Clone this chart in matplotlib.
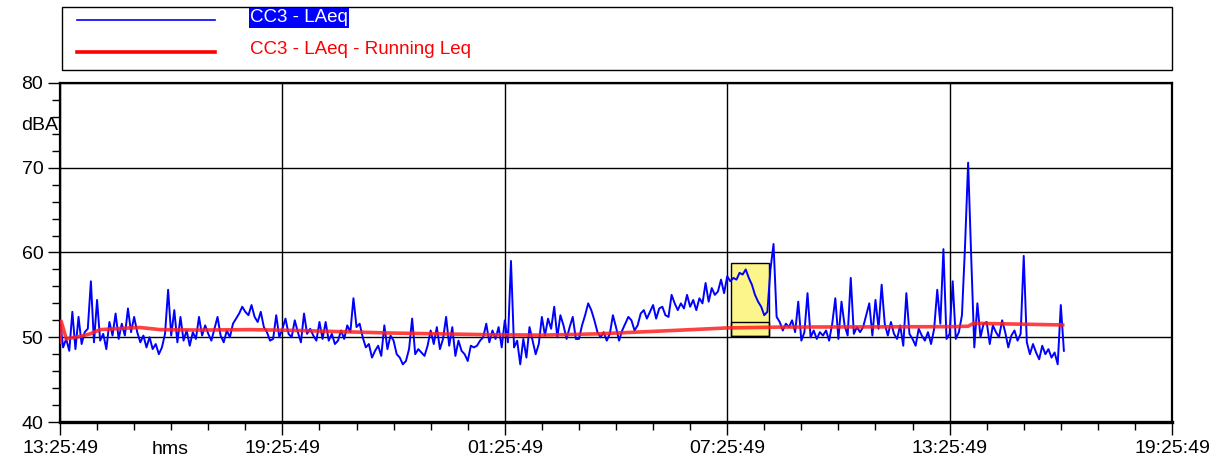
import numpy as np
import matplotlib
matplotlib.use("Agg")
import matplotlib.pyplot as plt
from matplotlib.patches import Rectangle
from matplotlib.lines import Line2D

# ------------------------------------------------------------------
# data, 5 minute LAeq samples from 13:25:49
# ------------------------------------------------------------------
STEP_MIN = 5
laeq = [
    52.0, 48.8, 49.8, 48.4, 53.0, 48.6, 52.4, 49.2, 50.6, 51.0, 56.6, 49.4,
    54.4, 49.6, 50.4, 48.6, 51.8, 50.2, 52.8, 49.8, 51.6, 50.2, 53.4, 50.6,
    52.4, 50.6, 49.4, 50.2, 48.8, 50.0, 48.6, 49.2, 48.0, 48.8, 50.4, 55.6,
    50.2, 53.2, 49.4, 52.4, 49.6, 50.8, 49.0, 50.6, 49.8, 52.4, 50.2, 51.4,
    50.4, 49.6, 51.0, 52.4, 50.2, 49.4, 50.8, 50.0, 51.6, 52.2, 52.8, 53.6,
    53.0, 52.6, 53.8, 52.4, 51.8, 53.0, 51.2, 50.6, 49.6, 49.8, 52.6, 50.0,
    51.0, 52.2, 50.4, 50.0, 52.0, 50.6, 49.4, 52.8, 50.4, 51.0, 50.2, 49.6,
    51.8, 49.8, 51.8, 49.6, 50.4, 49.2, 49.6, 50.8, 49.8, 51.4, 50.6, 54.6,
    51.2, 51.6, 50.0, 48.8, 49.2, 47.6, 48.4, 49.0, 47.8, 51.4, 48.6, 50.2,
    49.6, 48.0, 47.6, 46.8, 47.2, 48.6, 52.2, 48.0, 48.6, 48.2, 47.8, 49.0,
    50.8, 49.2, 51.2, 48.6, 49.8, 52.4, 49.0, 51.2, 47.8, 49.6, 48.4, 48.0,
    47.2, 49.0, 48.8, 49.0, 49.6, 50.0, 51.6, 49.4, 50.8, 49.8, 51.2, 48.8,
    52.0, 49.4, 59.0, 48.8, 49.6, 46.8, 49.8, 47.6, 51.2, 49.6, 48.0, 49.2,
    52.4, 50.2, 52.2, 51.0, 53.6, 50.0, 52.6, 51.4, 49.8, 51.2, 52.4, 49.8,
    49.8, 51.4, 52.6, 54.0, 53.2, 52.0, 50.6, 50.0, 50.6, 49.6, 50.4, 52.6,
    51.2, 49.6, 50.8, 51.6, 52.4, 52.0, 50.8, 51.4, 52.8, 53.2, 52.2, 53.0,
    53.8, 52.2, 53.4, 53.6, 52.6, 52.4, 55.0, 54.0, 53.2, 54.0, 53.4, 55.0,
    53.6, 54.4, 53.2, 54.6, 54.0, 56.4, 54.2, 55.8, 55.0, 55.4, 56.8, 55.2,
    57.2, 56.6, 57.0, 56.8, 57.6, 57.4, 58.0, 57.0, 56.2, 55.0, 54.2, 53.6,
    52.6, 53.0, 58.0, 61.0, 52.4, 51.8, 50.8, 51.6, 51.2, 52.0, 50.6, 54.2,
    49.6, 50.6, 55.2, 50.0, 50.8, 49.8, 50.6, 50.2, 50.8, 49.6, 51.6, 54.6,
    49.8, 54.2, 51.4, 50.2, 57.0, 50.4, 51.2, 50.6, 51.2, 52.6, 54.0, 50.2,
    54.4, 51.0, 56.2, 51.6, 50.2, 51.8, 50.4, 49.8, 51.4, 49.0, 55.2, 50.4,
    49.8, 49.0, 51.0, 50.2, 49.6, 50.6, 49.2, 51.0, 55.6, 51.6, 60.4, 49.8,
    50.4, 56.6, 49.8, 50.6, 52.6, 60.8, 70.6, 59.4, 48.8, 54.0, 50.0, 51.6,
    51.8, 49.2, 51.4, 50.6, 50.0, 52.0, 50.6, 48.8, 50.2, 50.8, 49.6, 50.4,
    59.6, 49.4, 48.0, 49.2, 48.2, 47.4, 49.0, 48.0, 48.6, 47.6, 48.2, 46.8,
    53.8, 48.4,
]

# running Leq (hours since start, dBA)
run_hours = [0.0, 0.03, 0.17, 0.54, 0.81, 1.08, 1.89, 2.16, 2.7, 3.78, 5.13,
             6.4, 8.91, 11.6, 13.0, 14.5, 16.3, 18.0, 19.43, 24.1, 24.5,
             24.65, 27.05]
run_leq = [49.4, 51.9, 49.8, 50.1, 50.4, 50.9, 51.1, 51.15, 50.9, 50.85, 50.9,
           50.8, 50.5, 50.3, 50.25, 50.4, 50.75, 51.1, 51.2, 51.25, 51.3,
           51.65, 51.45]

tick_labels = ["13:25:49", "19:25:49", "01:25:49", "07:25:49", "13:25:49", "19:25:49"]
series_names = ["CC3 - LAeq", "CC3 - LAeq - Running Leq"]

# highlighted interval (hours)
mark_start, mark_end = 18.11, 19.12

# ------------------------------------------------------------------
plt.rcParams['font.family'] = ['Liberation Sans', 'DejaVu Sans']

W, H = 1211, 461
fig = plt.figure(figsize=(W / 100, H / 100), dpi=100)
ax = fig.add_axes([60 / W, 1 - 422 / H, 1112 / W, 339 / H])

t = np.arange(len(laeq)) * STEP_MIN / 60.0
ax.plot(t, laeq, color='#0000ff', lw=1.4, zorder=4)
ax.plot(run_hours, run_leq, color='#ff2020', lw=2.6, alpha=0.85, zorder=5)

# yellow marker box
ax.add_patch(Rectangle((mark_start, 50.2), mark_end - mark_start, 58.8 - 50.2,
                       facecolor='#fbf58c', edgecolor='black', lw=1, zorder=3))
ax.add_patch(Rectangle((mark_start, 50.2), mark_end - mark_start, 51.8 - 50.2,
                       facecolor='none', edgecolor='black', lw=1, zorder=3))

ax.set_xlim(0, 30)
ax.set_ylim(40, 80)
ax.set_xticks(np.arange(0, 31, 6))
ax.set_xticklabels(tick_labels)
ax.set_xticks(np.arange(0, 31, 1), minor=True)
ax.set_yticks([40, 50, 60, 70, 80])
ax.set_yticks(np.arange(40, 81, 2), minor=True)
ax.tick_params(axis='both', which='major', labelsize=14, length=9, width=1, pad=3, colors='black')
ax.tick_params(axis='both', which='minor', length=6, width=1)
ax.tick_params(axis='x', which='major', pad=4)
ax.grid(True, which='major', color='black', lw=1)
for s in ax.spines.values():
    s.set_linewidth(1.6)
ax.spines['bottom'].set_linewidth(2.4)

ax.text(-2 / 1112, 75, "dBA", transform=ax.get_yaxis_transform(),
        ha='right', va='center', fontsize=14)
fig.text(170 / W, 1 - 449 / H, "hms", ha='center', va='center', fontsize=14)

# legend box drawn in figure pixels
fig.patches.append(Rectangle((62 / W, 1 - 70 / H), 1110 / W, 63 / H, transform=fig.transFigure,
                             facecolor='white', edgecolor='black', lw=1))
fig.lines.append(Line2D([77 / W, 215 / W], [1 - 20 / H] * 2, transform=fig.transFigure,
                        color='#0000ff', lw=1.2))
fig.lines.append(Line2D([77 / W, 215 / W], [1 - 52 / H] * 2, transform=fig.transFigure,
                        color='#ff0000', lw=2.6))
fig.text(250 / W, 1 - 18 / H, series_names[0], color='white', fontsize=13.5, va='center',
         bbox=dict(facecolor='#0000ff', edgecolor='none', pad=1))
fig.text(250 / W, 1 - 50 / H, series_names[1], color='#ff0000', fontsize=13.5, va='center')

fig.savefig("out.png", dpi=100)
